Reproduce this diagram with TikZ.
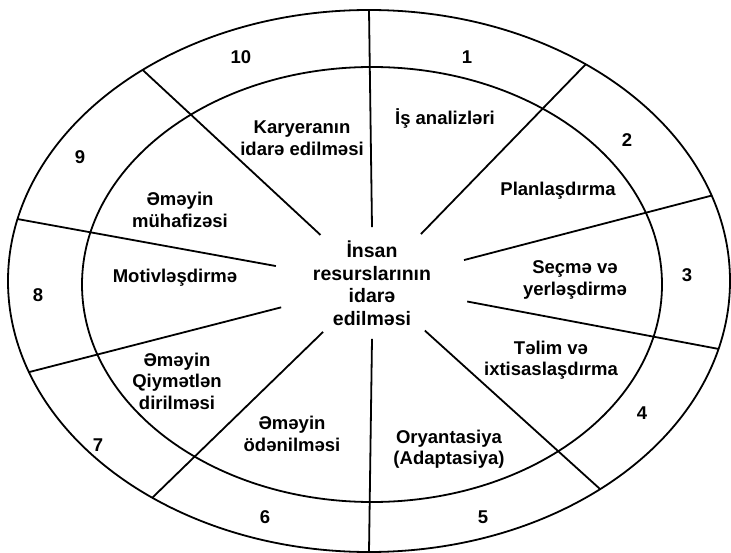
\documentclass[tikz,border=0pt]{standalone}
\usepackage{fontspec}
\setmainfont{Liberation Sans}
\usetikzlibrary{shapes.geometric}

\begin{document}
\begin{tikzpicture}[x=1pt, y=-1pt, line width=1.8pt,
    ring/.style={draw, ellipse, inner sep=0pt, outer sep=0pt},
    part/.style={font=\fontsize{18.5}{21.5}\selectfont\bfseries, align=center},
    num/.style={font=\fontsize{18.5}{20}\selectfont\bfseries}]
% Frame
\useasboundingbox (0,0) rectangle (731,553);

% Outer and inner ellipses
\node[ring, minimum width=722pt, minimum height=542pt] (outer) at (369,281) {};
\node[ring, minimum width=580pt, minimum height=435pt] (inner) at (372,284.5) {};

% Centre
\node[ellipse, inner sep=0pt, minimum width=200pt, minimum height=110pt] (hub) at (372,283) {};
\node[align=center, font=\fontsize{19.5}{22.5}\selectfont\bfseries] (title) at (hub)
    {İnsan\\resurslarının\\idarə\\edilməsi};

% Spokes
\foreach \a in {90,45,14,-11,-42,-90,-135,195,170,137}
    \draw (hub.\a) -- (outer.\a);

% Inner sectors
\node[part] (p1) at (445,118) {İş analizləri};
\node[part] (p2) at (558,191) {Planlaşdırma};
\node[part] (p3) at (575,280) {Seçmə və\\yerləşdirmə};
\node[part] (p4) at (551,360) {Təlim və\\ixtisaslaşdırma};
\node[part] (p5) at (449,449) {Oryantasiya\\(Adaptasiya)};
\node[part] (p6) at (292,434) {Əməyin\\ödənilməsi};
\node[part] (p7) at (177,381) {Əməyin\\Qiymətlən\\dirilməsi};
\node[part] (p8) at (175,278) {Motivləşdirmə};
\node[part] (p9) at (180,210) {Əməyin\\mühafizəsi};
\node[part] (p10) at (302,138) {Karyeranın\\idarə edilməsi};

% Numbers in the outer ring
\node[num] (n1) at (467,57) {1};
\node[num] (n2) at (627,140) {2};
\node[num] (n3) at (687,275) {3};
\node[num] (n4) at (642,413) {4};
\node[num] (n5) at (483,517) {5};
\node[num] (n6) at (265,517) {6};
\node[num] (n7) at (98,445) {7};
\node[num] (n8) at (38,295) {8};
\node[num] (n9) at (80,157) {9};
\node[num] (n10) at (241,57) {10};
\end{tikzpicture}
\end{document}
